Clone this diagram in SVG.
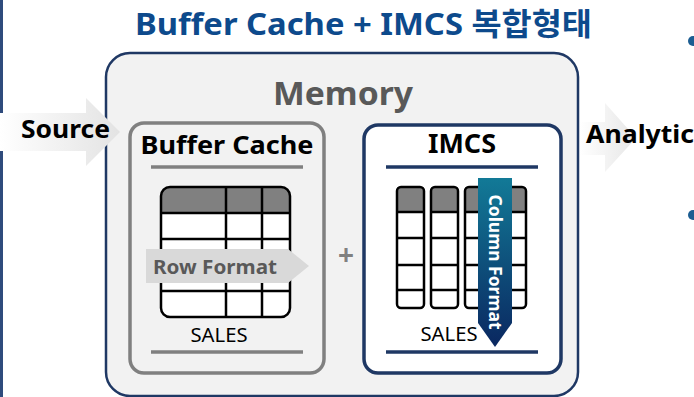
<svg xmlns="http://www.w3.org/2000/svg" width="694" height="397" viewBox="0 0 694 397">
<defs>
<linearGradient id="gSrc" x1="0" y1="0" x2="1" y2="0">
<stop offset="0" stop-color="#ffffff"/>
<stop offset="1" stop-color="#e3e3e3"/>
</linearGradient>
<linearGradient id="gAna" x1="0" y1="0" x2="1" y2="0">
<stop offset="0" stop-color="#ffffff"/>
<stop offset="1" stop-color="#e6e6e6"/>
</linearGradient>
<linearGradient id="gCol" x1="0" y1="0" x2="0" y2="1">
<stop offset="0" stop-color="#127a97"/>
<stop offset="1" stop-color="#0a2760"/>
</linearGradient>
<style>
.t{font-family:"Noto Sans","Noto Sans CJK KR",sans-serif;font-weight:bold}
.r{font-family:"Noto Sans","Noto Sans CJK KR",sans-serif}
.grid{fill:none;stroke:#000;stroke-width:2.5}
.hdr{fill:#808080}
</style>
</defs>
<rect width="694" height="397" fill="#fff"/>
<line x1="1.5" y1="0" x2="1.5" y2="397" stroke="#2f4b7c" stroke-width="3"/>
<text class="t" x="135" y="35" font-size="31" fill="#0d4a8c" textLength="457" lengthAdjust="spacingAndGlyphs" font-family="'Noto Sans CJK KR',sans-serif">Buffer Cache + IMCS 복합형태</text>
<g id="bullets" fill="#1c5d92">
<circle cx="693" cy="41" r="5"/>
<circle cx="693" cy="215" r="5"/>
</g>
<g id="memory">
<rect x="106" y="53" width="472" height="343" rx="24" fill="#f2f2f2" stroke="#1f3864" stroke-width="2.5"/>
<text class="t" x="343" y="105" font-size="33" fill="#595959" text-anchor="middle" textLength="140" lengthAdjust="spacingAndGlyphs">Memory</text>
</g>
<g id="source">
<path d="M0,113 H86 V98 L120,132 L86,166 V151 H0 Z" fill="url(#gSrc)"/>
<text class="t" x="21" y="138" font-size="25" fill="#000" textLength="89" lengthAdjust="spacingAndGlyphs">Source</text>
</g>
<g id="analytic">
<path d="M580,122 H605 V103 L636,138 L605,172 V155 H580 Z" fill="url(#gAna)"/>
<text class="t" x="586" y="143" font-size="25" fill="#000" textLength="108" lengthAdjust="spacingAndGlyphs">Analytic</text>
</g>
<g id="buffer-cache">
<rect x="130" y="123" width="194" height="250" rx="14" fill="#f2f2f2" stroke="#808080" stroke-width="3.5"/>
<text class="t" x="227" y="154" font-size="25" fill="#000" text-anchor="middle" textLength="173" lengthAdjust="spacingAndGlyphs">Buffer Cache</text>
<line x1="151" y1="167" x2="303" y2="167" stroke="#808080" stroke-width="3.5"/>
<line x1="151" y1="352" x2="303" y2="352" stroke="#808080" stroke-width="3.5"/>
<rect x="161" y="187" width="129" height="130" rx="9" fill="#fff"/>
<path d="M161,213 V196 Q161,187 170,187 H281 Q290,187 290,196 V213 Z" class="hdr"/>
<rect x="161" y="187" width="129" height="130" rx="9" class="grid"/>
<path d="M161,213 H290 M161,239 H290 M161,265 H290 M161,291 H290 M226,187 V317 M262,187 V317" class="grid"/>
<path d="M146,249 H288 L309,266 L288,283 H146 Z" fill="#d9d9d9"/>
<text class="t" x="153" y="274" font-size="19" fill="#595959" textLength="124" lengthAdjust="spacingAndGlyphs">Row Format</text>
<text class="r" x="219" y="342" font-size="20" fill="#000" text-anchor="middle" textLength="57" lengthAdjust="spacingAndGlyphs">SALES</text>
</g>
<text class="t" x="346" y="265" font-size="28" fill="#808080" text-anchor="middle">+</text>
<g id="imcs">
<rect x="364" y="125" width="197" height="248" rx="14" fill="#fff" stroke="#1f3864" stroke-width="3.5"/>
<text class="t" x="462" y="153" font-size="26" fill="#000" text-anchor="middle" textLength="68" lengthAdjust="spacingAndGlyphs">IMCS</text>
<line x1="386" y1="167" x2="538" y2="167" stroke="#1f3864" stroke-width="3.5"/>
<line x1="386" y1="352" x2="538" y2="352" stroke="#1f3864" stroke-width="3.5"/>
<g id="columns">
<g>
<rect x="397" y="187" width="27" height="121" rx="4" fill="#fff"/>
<path d="M397,212 V191 Q397,187 401,187 H420 Q424,187 424,191 V212 Z" class="hdr"/>
<rect x="397" y="187" width="27" height="121" rx="4" class="grid"/>
<path d="M397,212 H424 M397,238 H424 M397,265 H424 M397,290 H424" class="grid"/>
</g>
<g>
<rect x="431" y="187" width="27" height="121" rx="4" fill="#fff"/>
<path d="M431,212 V191 Q431,187 435,187 H454 Q458,187 458,191 V212 Z" class="hdr"/>
<rect x="431" y="187" width="27" height="121" rx="4" class="grid"/>
<path d="M431,212 H458 M431,238 H458 M431,265 H458 M431,290 H458" class="grid"/>
</g>
<g>
<rect x="465" y="187" width="27" height="121" rx="4" fill="#fff"/>
<path d="M465,212 V191 Q465,187 469,187 H488 Q492,187 492,191 V212 Z" class="hdr"/>
<rect x="465" y="187" width="27" height="121" rx="4" class="grid"/>
<path d="M465,212 H492 M465,238 H492 M465,265 H492 M465,290 H492" class="grid"/>
</g>
<g>
<rect x="499" y="187" width="27" height="121" rx="4" fill="#fff"/>
<path d="M499,212 V191 Q499,187 503,187 H522 Q526,187 526,191 V212 Z" class="hdr"/>
<rect x="499" y="187" width="27" height="121" rx="4" class="grid"/>
<path d="M499,212 H526 M499,238 H526 M499,265 H526 M499,290 H526" class="grid"/>
</g>
</g>
<text class="r" x="449" y="341" font-size="20" fill="#000" text-anchor="middle" textLength="57" lengthAdjust="spacingAndGlyphs">SALES</text>
<path d="M478,178 H512 V323 L495,347 L478,323 Z" fill="url(#gCol)"/>
<text class="t" transform="translate(489,262) rotate(90)" x="0" y="0" font-size="18" fill="#fff" text-anchor="middle" textLength="135" lengthAdjust="spacingAndGlyphs">Column Format</text>
</g>
</svg>
